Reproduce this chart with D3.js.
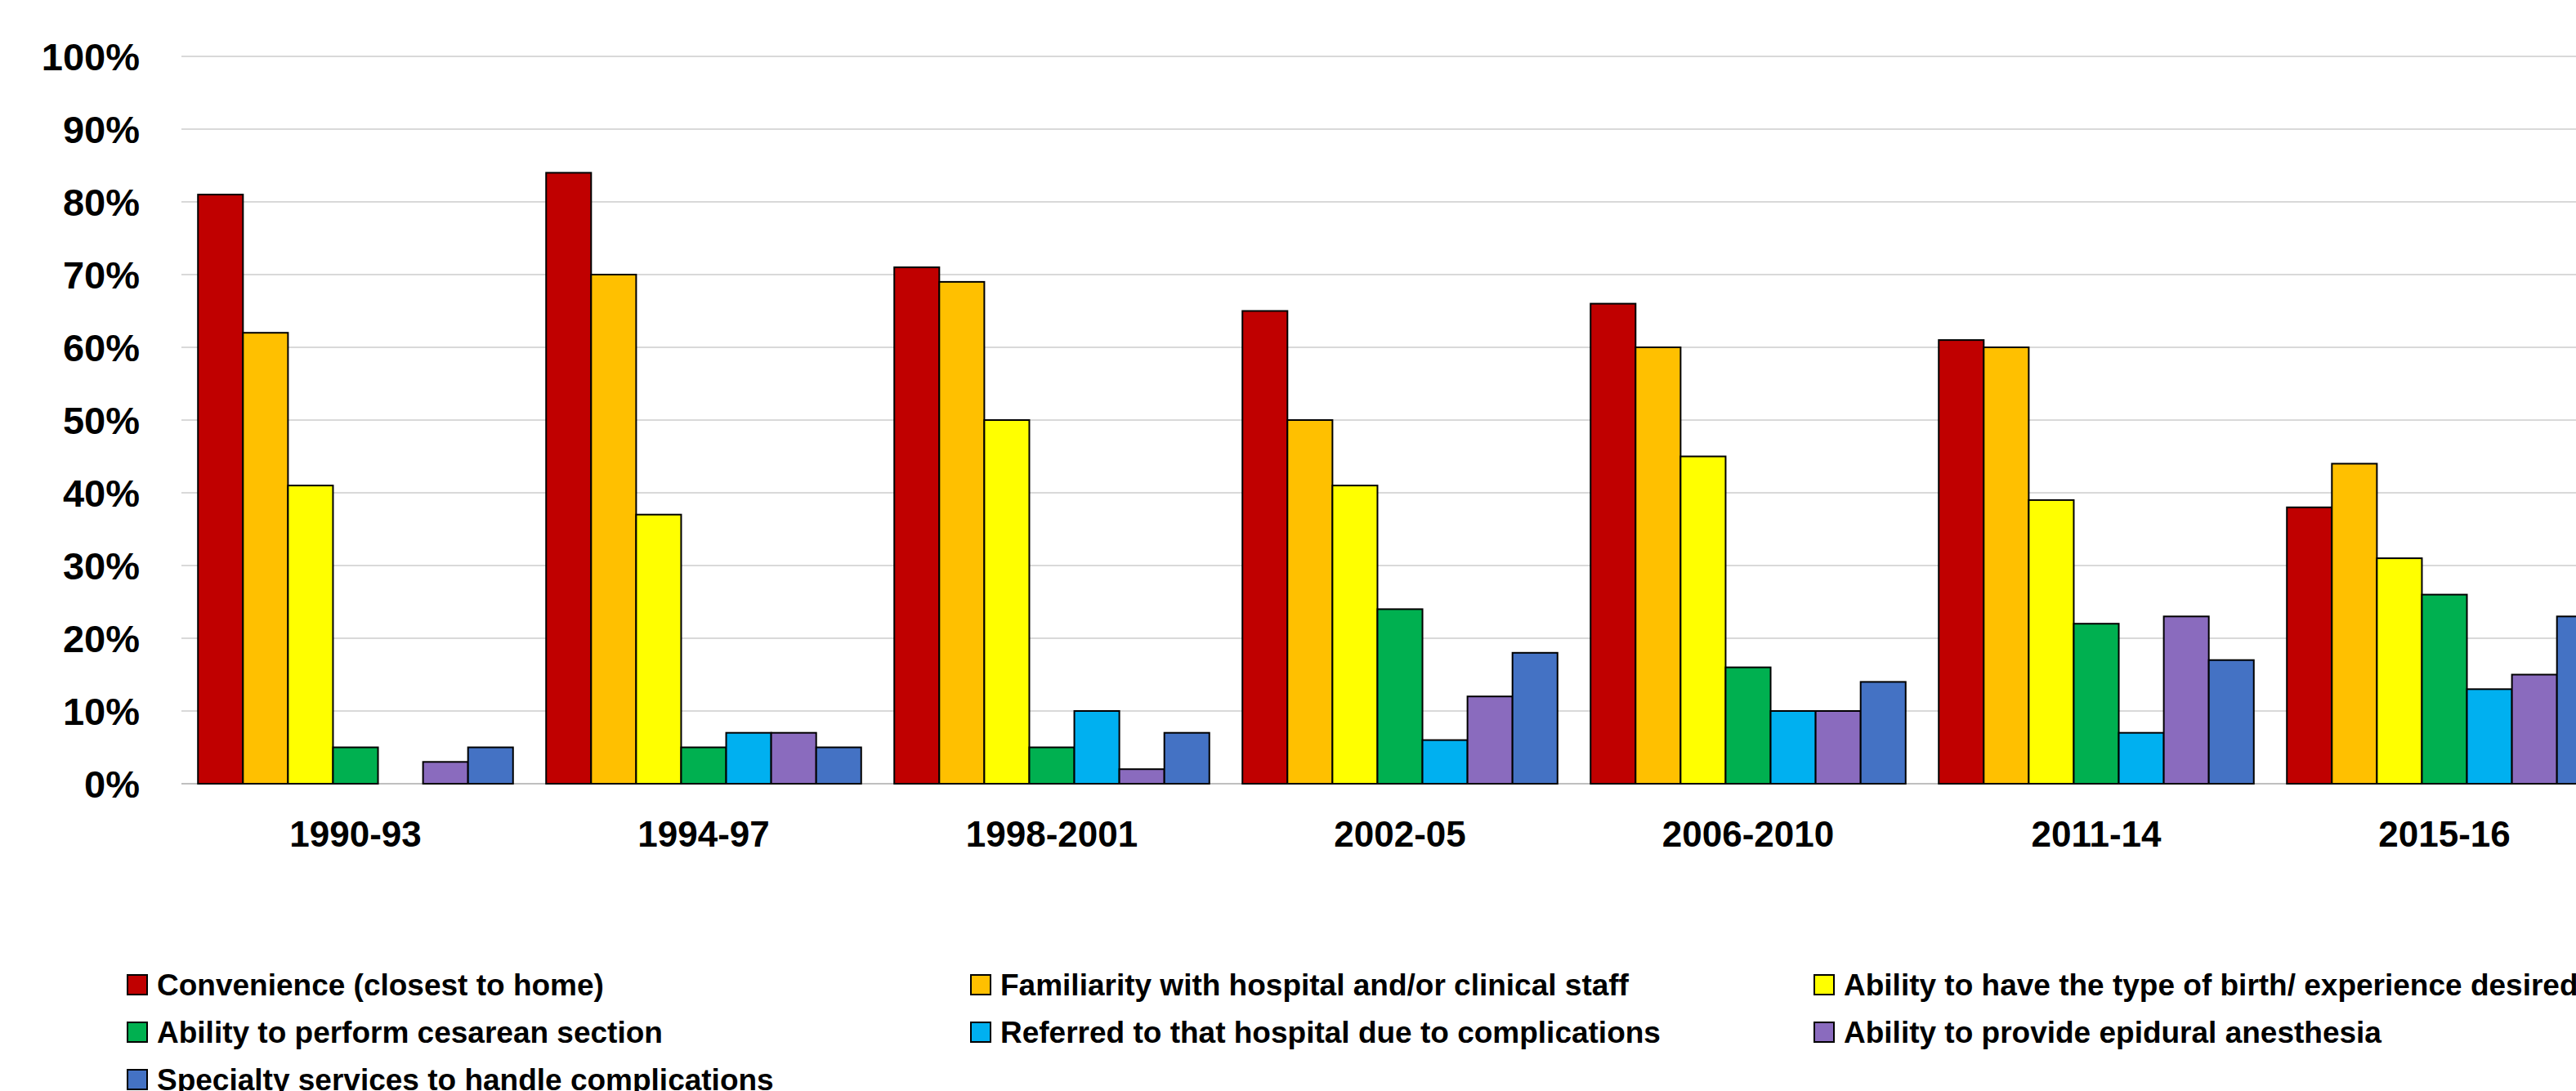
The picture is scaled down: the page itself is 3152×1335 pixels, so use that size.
<!DOCTYPE html>
<html>
<head>
<meta charset="utf-8">
<script src="https://cdn.jsdelivr.net/npm/d3@7"></script>
<style>
  body { margin: 0; background: #fff; }
  text { font-family: "Liberation Sans Narrow", "Arial Narrow", "Liberation Sans", sans-serif; font-weight: bold; fill: #000; }
</style>
</head>
<body>
<div id="chart"></div>
<script>
// periods on the x axis
var periods = ["1990-93", "1994-97", "1998-2001", "2002-05", "2006-2010", "2011-14", "2015-16"];

// one array per reason, % of respondents per period (null = no bar)
var convenience = [81, 84, 71, 65, 66, 61, 38];
var familiarity = [62, 70, 69, 50, 60, 60, 44];
var birthType   = [41, 37, 50, 41, 45, 39, 31];
var cesarean    = [5, 5, 5, 24, 16, 22, 26];
var referred    = [null, 7, 10, 6, 10, 7, 13];
var epidural    = [3, 7, 2, 12, 10, 23, 15];
var specialty   = [5, 5, 7, 18, 14, 17, 23];

var seriesNames = [
  "Convenience (closest to home)",
  "Familiarity with hospital and/or clinical staff",
  "Ability to have the type of birth/ experience desired",
  "Ability to perform cesarean section",
  "Referred to that hospital due to complications",
  "Ability to provide epidural anesthesia",
  "Specialty services to handle complications"
];
var seriesValues = [convenience, familiarity, birthType, cesarean, referred, epidural, specialty];
var colors = ["#C00000", "#FFC000", "#FFFF00", "#00B050", "#00B0F0", "#8A6BBE", "#4472C4"];

var yTicks = [0, 10, 20, 30, 40, 50, 60, 70, 80, 90, 100];

function draw() {
  var w = 3152, h = 1335;
  var left = 222, top = 69, bottom = 959;
  var step = 426;   // the plot runs past the right edge of the picture

  var svg = d3.select("#chart").append("svg")
      .attr("width", w)
      .attr("height", h);

  var xScale = d3.scaleBand()
      .domain(periods)
      .range([left, left + step * periods.length])
      .paddingInner(0.095)
      .paddingOuter(0.0475);

  var xInner = d3.scaleBand()
      .domain(d3.range(seriesNames.length))
      .range([0, xScale.bandwidth()]);

  var yScale = d3.scaleLinear()
      .domain([0, 100])
      .range([bottom, top]);

  // gridlines
  svg.append("g").selectAll("line")
      .data(yTicks)
      .enter()
      .append("line")
      .attr("x1", left)
      .attr("x2", w)
      .attr("y1", function(d){ return yScale(d); })
      .attr("y2", function(d){ return yScale(d); })
      .attr("stroke", function(d){ return d === 0 ? "#BFBFBF" : "#D9D9D9"; })
      .attr("stroke-width", 2);

  // y axis labels
  var yAxis = d3.axisLeft(yScale)
      .tickValues(yTicks)
      .tickSize(0)
      .tickPadding(0)
      .tickFormat(function(d){ return d + "%"; });

  var gy = svg.append("g")
      .attr("transform", "translate(171,0)")
      .call(yAxis);
  gy.select(".domain").remove();
  gy.selectAll("text")
      .style("font-size", "47px")
      .attr("dy", "0.36em");

  // bars
  var rows = [];
  seriesValues.forEach(function(vals, s){
    vals.forEach(function(v, i){
      if (v !== null) rows.push({ period: periods[i], s: s, value: v });
    });
  });

  svg.append("g").selectAll("rect")
      .data(rows)
      .enter()
      .append("rect")
      .attr("x", function(d){ return xScale(d.period) + xInner(d.s); })
      .attr("y", function(d){ return yScale(d.value); })
      .attr("width", xInner.bandwidth())
      .attr("height", function(d){ return yScale(0) - yScale(d.value); })
      .attr("fill", function(d){ return colors[d.s]; })
      .attr("stroke", "#000")
      .attr("stroke-width", 2);

  // x axis labels
  var xAxis = d3.axisBottom(xScale)
      .tickSize(0)
      .tickPadding(0);
  var gx = svg.append("g")
      .attr("transform", "translate(0,1036)")
      .call(xAxis);
  gx.select(".domain").remove();
  gx.selectAll("text")
      .style("font-size", "44px")
      .attr("dy", 0);

  // legend, three columns
  var legend = svg.append("g").selectAll("g")
      .data(seriesNames)
      .enter()
      .append("g")
      .attr("transform", function(d, i){
        return "translate(" + (156 + (i % 3) * 1032) + "," + (1193 + Math.floor(i / 3) * 58) + ")";
      });
  legend.append("rect")
      .attr("width", 24)
      .attr("height", 24)
      .attr("fill", function(d, i){ return colors[i]; })
      .attr("stroke", "#000")
      .attr("stroke-width", 2);
  legend.append("text")
      .attr("x", 36)
      .attr("y", 12)
      .attr("dy", "0.36em")
      .style("font-size", "37px")
      .text(function(d){ return d; });
}

window.onload = draw;
</script>
</body>
</html>
